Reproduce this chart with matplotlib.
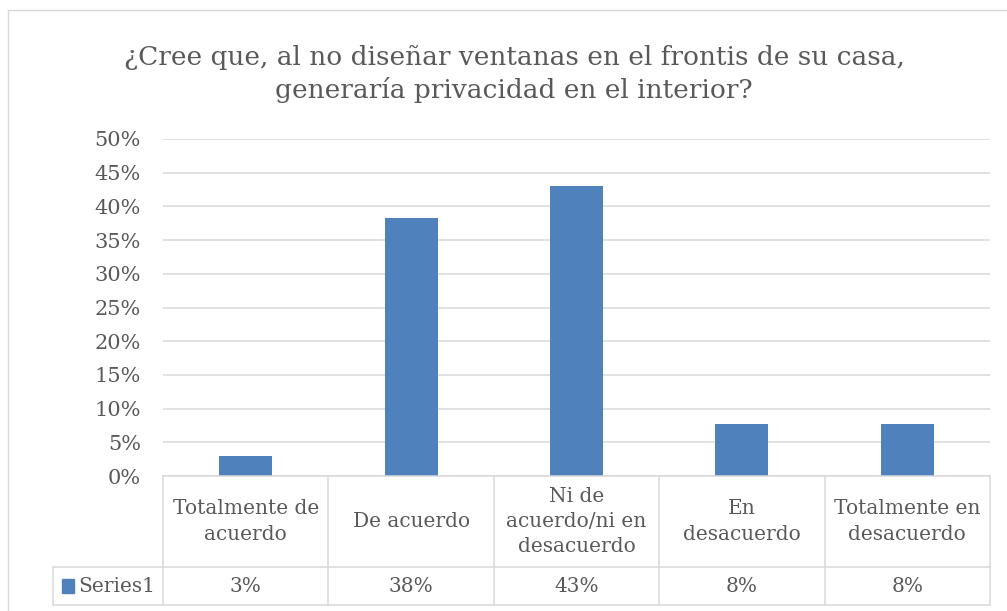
import matplotlib.pyplot as plt
from matplotlib.lines import Line2D
from matplotlib.patches import Rectangle
import numpy as np

categories = ["Totalmente de\nacuerdo", "De acuerdo", "Ni de\nacuerdo/ni en\ndesacuerdo",
              "En\ndesacuerdo", "Totalmente en\ndesacuerdo"]
values = [0.030, 0.383, 0.431, 0.077, 0.077]
value_labels = ["3%", "38%", "43%", "8%", "8%"]
series_name = "Series1"
yticks = [0, 0.05, 0.10, 0.15, 0.20, 0.25, 0.30, 0.35, 0.40, 0.45, 0.50]
title = "¿Cree que, al no diseñar ventanas en el frontis de su casa,\ngeneraría privacidad en el interior?"

bar_color = "#4f81bd"
grid_color = "#d9d9d9"
text_color = "#595959"
fontsize = 14.5

plt.rcParams['font.family'] = ['DejaVu Serif']

W, H = 1007, 611
fig = plt.figure(figsize=(W / 100, H / 100), dpi=100)
ax = fig.add_axes([163 / W, 1 - 476 / H, (990 - 163) / W, (476 - 139) / H])

x = np.arange(len(categories))
ax.bar(x, values, width=0.32, color=bar_color, zorder=3)
ax.set_xlim(-0.5, len(categories) - 0.5)
ax.set_ylim(0, 0.5)
ax.set_yticks(yticks)
ax.set_yticklabels([f"{int(round(t * 100))}%" for t in yticks], fontsize=15, color=text_color)
ax.tick_params(axis='y', length=0, pad=16)
ax.set_xticks([])
ax.grid(axis='y', color=grid_color, linewidth=1.1, zorder=0)
for s in ax.spines.values():
    s.set_visible(False)

# data table under the plot
tr = ax.get_xaxis_transform()
h1 = -91 / 337
h2 = -129 / 337
left = -0.5 - 110 / 165.4
right = len(categories) - 0.5
lw = 1.1
lines = [
    ([-0.5, right], [0, 0]),
    ([left, right], [h1, h1]),
    ([left, right], [h2, h2]),
    ([left, left], [h1, h2]),
]
for e in np.arange(-0.5, right + 0.01, 1):
    lines.append(([e, e], [0, h2]))
for xs, ys in lines:
    ax.add_line(Line2D(xs, ys, transform=tr, color=grid_color, linewidth=lw, clip_on=False, zorder=4))

for i, (c, v) in enumerate(zip(categories, value_labels)):
    ax.text(i, h1 / 2, c, transform=tr, ha='center', va='center', fontsize=fontsize,
            color=text_color, linespacing=1.4)
    ax.text(i, (h1 + h2) / 2, v, transform=tr, ha='center', va='center', fontsize=fontsize,
            color=text_color)

# legend key in the row label cell
ax.add_patch(Rectangle((left + 9 / 165.4, (h1 + h2) / 2 - 0.02), 12 / 165.4, 0.04,
                       transform=tr, color=bar_color, clip_on=False))
ax.text(left + 25 / 165.4, (h1 + h2) / 2, series_name, transform=tr, ha='left', va='center',
        fontsize=fontsize, color=text_color)

# chart title
fig.text(514 / W, 1 - 74 / H, title, ha='center', va='center', fontsize=19,
         color=text_color, linespacing=1.3)

# chart border
fig.add_artist(Line2D([8 / W, 8 / W], [0, 1 - 10 / H], color=grid_color, linewidth=1))
fig.add_artist(Line2D([8 / W, 1], [1 - 10 / H, 1 - 10 / H], color=grid_color, linewidth=1))

fig.savefig("out.png", dpi=100, facecolor='white')
